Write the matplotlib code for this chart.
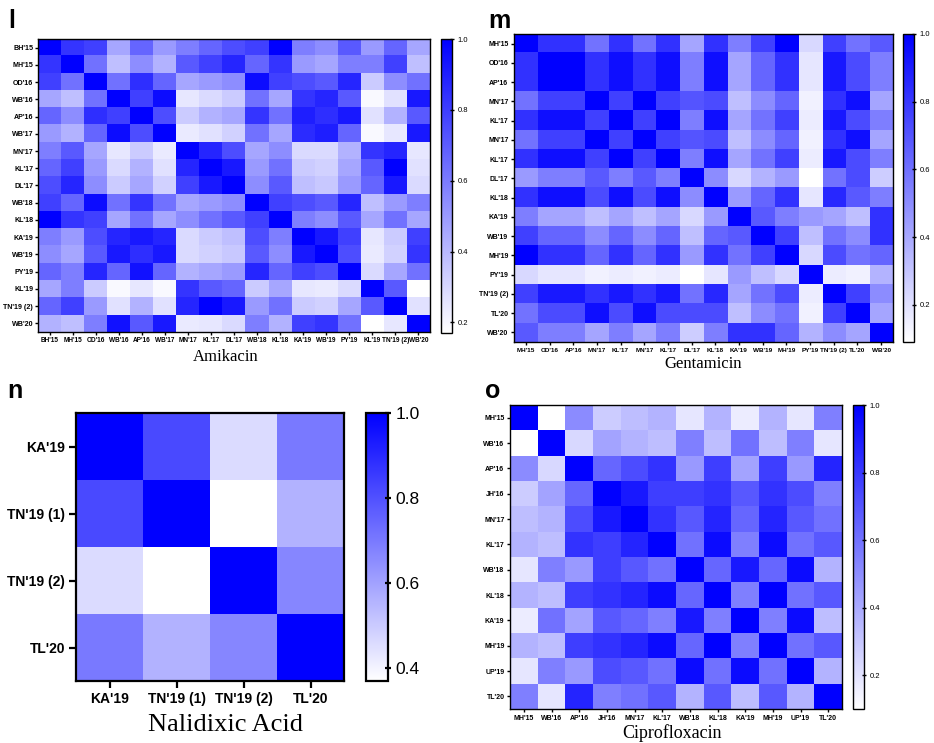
import numpy as np
import matplotlib
matplotlib.use("Agg")
import matplotlib.pyplot as plt
from matplotlib.colors import LinearSegmentedColormap

# ---- data ----
amk_labels = ["BH'15", "MH'15", "OD'16", "WB'16", "AP'16", "WB'17", "MN'17",
              "KL'17", "DL'17", "WB'18", "KL'18", "KA'19", "WB'19", "PY'19",
              "KL'19", "TN'19 (2)", "WB'20"]
amk_values = [
    [1.00, 0.83, 0.79, 0.46, 0.67, 0.50, 0.59, 0.67, 0.75, 0.79, 1.00, 0.59, 0.54, 0.71, 0.50, 0.67, 0.46],
    [0.83, 1.00, 0.63, 0.38, 0.54, 0.42, 0.71, 0.79, 0.88, 0.67, 0.83, 0.50, 0.46, 0.59, 0.59, 0.79, 0.38],
    [0.79, 0.63, 1.00, 0.63, 0.85, 0.67, 0.46, 0.50, 0.54, 0.96, 0.79, 0.75, 0.71, 0.88, 0.34, 0.54, 0.63],
    [0.46, 0.38, 0.63, 1.00, 0.79, 0.96, 0.25, 0.29, 0.34, 0.63, 0.46, 0.83, 0.88, 0.71, 0.19, 0.27, 0.92],
    [0.67, 0.54, 0.85, 0.79, 1.00, 0.75, 0.34, 0.42, 0.46, 0.83, 0.63, 0.90, 0.85, 0.92, 0.27, 0.42, 0.71],
    [0.50, 0.42, 0.67, 0.96, 0.75, 1.00, 0.24, 0.27, 0.32, 0.63, 0.46, 0.86, 0.90, 0.67, 0.19, 0.25, 0.92],
    [0.59, 0.71, 0.46, 0.25, 0.34, 0.24, 1.00, 0.88, 0.75, 0.46, 0.54, 0.29, 0.29, 0.42, 0.83, 0.88, 0.25],
    [0.67, 0.79, 0.50, 0.29, 0.42, 0.27, 0.88, 1.00, 0.92, 0.50, 0.63, 0.34, 0.32, 0.46, 0.71, 1.00, 0.27],
    [0.75, 0.88, 0.54, 0.34, 0.46, 0.32, 0.79, 0.92, 1.00, 0.54, 0.71, 0.38, 0.35, 0.50, 0.67, 0.92, 0.29],
    [0.79, 0.67, 0.96, 0.63, 0.83, 0.63, 0.46, 0.50, 0.54, 1.00, 0.79, 0.75, 0.71, 0.88, 0.38, 0.50, 0.59],
    [1.00, 0.83, 0.79, 0.46, 0.63, 0.46, 0.54, 0.63, 0.71, 0.79, 1.00, 0.59, 0.54, 0.71, 0.46, 0.63, 0.46],
    [0.59, 0.50, 0.75, 0.88, 0.92, 0.88, 0.29, 0.34, 0.38, 0.75, 0.59, 1.00, 0.92, 0.79, 0.25, 0.34, 0.79],
    [0.54, 0.46, 0.71, 0.92, 0.85, 0.92, 0.29, 0.32, 0.35, 0.71, 0.54, 0.92, 1.00, 0.75, 0.24, 0.32, 0.83],
    [0.67, 0.59, 0.88, 0.67, 0.94, 0.67, 0.42, 0.46, 0.50, 0.88, 0.67, 0.79, 0.75, 1.00, 0.29, 0.46, 0.63],
    [0.46, 0.59, 0.34, 0.19, 0.25, 0.19, 0.83, 0.71, 0.67, 0.34, 0.46, 0.25, 0.24, 0.29, 1.00, 0.71, 0.17],
    [0.67, 0.79, 0.50, 0.27, 0.42, 0.27, 0.88, 1.00, 0.92, 0.50, 0.63, 0.34, 0.32, 0.46, 0.71, 1.00, 0.27],
    [0.42, 0.38, 0.59, 0.94, 0.71, 0.92, 0.24, 0.25, 0.29, 0.59, 0.42, 0.79, 0.83, 0.63, 0.17, 0.25, 1.00],
]

gen_labels = ["MH'15", "OD'16", "AP'16", "MN'17", "KL'17", "MN'17", "KL'17",
              "DL'17", "KL'18", "KA'19", "WB'19", "MH'19", "PY'19",
              "TN'19 (2)", "TL'20", "WB'20"]
gen_values = [
    [1.00, 0.82, 0.82, 0.59, 0.82, 0.59, 0.82, 0.41, 0.82, 0.55, 0.77, 1.00, 0.23, 0.77, 0.59, 0.68],
    [0.82, 1.00, 1.00, 0.82, 0.95, 0.82, 0.95, 0.55, 0.95, 0.41, 0.64, 0.82, 0.18, 0.91, 0.73, 0.55],
    [0.82, 1.00, 1.00, 0.82, 0.95, 0.82, 0.95, 0.55, 0.95, 0.41, 0.64, 0.82, 0.18, 0.91, 0.73, 0.55],
    [0.59, 0.77, 0.77, 1.00, 0.77, 1.00, 0.77, 0.70, 0.73, 0.32, 0.50, 0.64, 0.14, 0.82, 0.95, 0.41],
    [0.82, 0.95, 0.95, 0.77, 1.00, 0.77, 1.00, 0.55, 0.95, 0.41, 0.59, 0.77, 0.16, 0.91, 0.73, 0.55],
    [0.59, 0.77, 0.77, 1.00, 0.77, 1.00, 0.77, 0.70, 0.73, 0.32, 0.50, 0.64, 0.14, 0.82, 0.95, 0.41],
    [0.82, 0.95, 0.95, 0.77, 1.00, 0.77, 1.00, 0.55, 0.95, 0.41, 0.59, 0.77, 0.16, 0.91, 0.73, 0.55],
    [0.45, 0.55, 0.55, 0.68, 0.55, 0.68, 0.55, 1.00, 0.50, 0.23, 0.36, 0.45, 0.09, 0.59, 0.73, 0.27],
    [0.82, 0.95, 0.95, 0.73, 0.95, 0.73, 0.95, 0.50, 1.00, 0.45, 0.64, 0.82, 0.18, 0.86, 0.68, 0.55],
    [0.55, 0.41, 0.41, 0.32, 0.41, 0.32, 0.41, 0.23, 0.45, 1.00, 0.68, 0.55, 0.45, 0.41, 0.32, 0.82],
    [0.77, 0.64, 0.64, 0.50, 0.64, 0.50, 0.64, 0.32, 0.64, 0.68, 1.00, 0.77, 0.32, 0.59, 0.50, 0.82],
    [1.00, 0.82, 0.82, 0.64, 0.82, 0.64, 0.82, 0.45, 0.82, 0.59, 0.77, 1.00, 0.23, 0.73, 0.59, 0.64],
    [0.23, 0.18, 0.18, 0.14, 0.16, 0.14, 0.16, 0.09, 0.18, 0.45, 0.32, 0.23, 1.00, 0.16, 0.14, 0.36],
    [0.77, 0.91, 0.91, 0.82, 0.91, 0.82, 0.91, 0.59, 0.86, 0.41, 0.59, 0.73, 0.16, 1.00, 0.77, 0.50],
    [0.59, 0.73, 0.73, 0.95, 0.73, 0.95, 0.73, 0.73, 0.73, 0.32, 0.50, 0.59, 0.14, 0.77, 1.00, 0.41],
    [0.68, 0.55, 0.55, 0.41, 0.55, 0.41, 0.55, 0.27, 0.55, 0.82, 0.82, 0.64, 0.36, 0.50, 0.41, 1.00],
]

nal_labels = ["KA'19", "TN'19 (1)", "TN'19 (2)", "TL'20"]
nal_values = [
    [1.00, 0.82, 0.46, 0.70],
    [0.82, 1.00, 0.37, 0.56],
    [0.46, 0.37, 1.00, 0.67],
    [0.70, 0.56, 0.67, 1.00],
]

cip_labels = ["MH'15", "WB'16", "AP'16", "JH'16", "MN'17", "KL'17", "WB'18",
              "KL'18", "KA'19", "MH'19", "UP'19", "TL'20"]
cip_values = [
    [1.00, 0.10, 0.51, 0.28, 0.33, 0.37, 0.19, 0.37, 0.17, 0.37, 0.19, 0.55],
    [0.10, 1.00, 0.24, 0.42, 0.37, 0.33, 0.55, 0.33, 0.60, 0.33, 0.55, 0.19],
    [0.51, 0.24, 1.00, 0.64, 0.73, 0.82, 0.46, 0.78, 0.42, 0.78, 0.46, 0.87],
    [0.28, 0.42, 0.64, 1.00, 0.91, 0.78, 0.78, 0.82, 0.69, 0.82, 0.73, 0.55],
    [0.33, 0.37, 0.73, 0.91, 1.00, 0.82, 0.69, 0.87, 0.64, 0.87, 0.69, 0.60],
    [0.37, 0.33, 0.82, 0.78, 0.87, 1.00, 0.60, 0.96, 0.55, 0.96, 0.60, 0.69],
    [0.19, 0.55, 0.46, 0.78, 0.69, 0.60, 1.00, 0.64, 0.91, 0.64, 0.96, 0.37],
    [0.37, 0.33, 0.78, 0.82, 0.87, 0.96, 0.64, 1.00, 0.55, 1.00, 0.60, 0.69],
    [0.17, 0.60, 0.42, 0.69, 0.64, 0.55, 0.91, 0.55, 1.00, 0.55, 0.96, 0.33],
    [0.37, 0.33, 0.78, 0.82, 0.87, 0.96, 0.64, 1.00, 0.55, 1.00, 0.60, 0.69],
    [0.19, 0.55, 0.46, 0.73, 0.69, 0.60, 0.96, 0.60, 0.96, 0.60, 1.00, 0.37],
    [0.55, 0.19, 0.87, 0.55, 0.60, 0.69, 0.37, 0.69, 0.33, 0.69, 0.37, 1.00],
]

W, H = 934, 743
cmap = LinearSegmentedColormap.from_list("wb", ["#ffffff", "#0000ff"])


def px(l, t, r, b):
    """pixel box -> figure fraction rect"""
    return [l / W, 1 - b / H, (r - l) / W, (b - t) / H]


def heat(fig, box, cbox, data, labels, vmin, ticks, yfs, xfs, cb_fs, lw, tlen, pad):
    ax = fig.add_axes(px(*box))
    im = ax.imshow(np.array(data), cmap=cmap, vmin=vmin, vmax=1.0,
                   aspect="auto", interpolation="nearest")
    n = len(labels)
    ax.set_xticks(range(n))
    ax.set_yticks(range(n))
    ax.set_xticklabels(labels, fontsize=xfs, fontweight="bold",
                       family="Liberation Sans")
    ax.set_yticklabels(labels, fontsize=yfs, fontweight="bold",
                       family="Liberation Sans")
    ax.tick_params(length=tlen, width=lw, pad=pad)
    for s in ax.spines.values():
        s.set_linewidth(lw)
    cax = fig.add_axes(px(*cbox))
    cb = fig.colorbar(im, cax=cax, ticks=ticks)
    cb.ax.set_yticklabels([f"{t:.1f}" for t in ticks], fontsize=cb_fs,
                          family="Liberation Sans")
    cb.ax.tick_params(direction="inout", length=tlen, width=lw, pad=3)
    cb.outline.set_linewidth(lw)
    return ax


fig = plt.figure(figsize=(W / 100, H / 100), dpi=100)
ticks5 = [0.2, 0.4, 0.6, 0.8, 1.0]

heat(fig, (38, 39, 430, 332), (441, 39, 452, 333), amk_values, amk_labels,
     0.17, ticks5, 5.1, 4.7, 5.5, 1.0, 2.5, 1)
heat(fig, (514, 34, 893, 342), (903, 34, 914, 342), gen_values, gen_labels,
     0.09, ticks5, 5.0, 4.6, 5.5, 1.0, 2.5, 1.5)
heat(fig, (76, 413, 344, 681), (366, 413, 388, 681), nal_values, nal_labels,
     0.37, [0.4, 0.6, 0.8, 1.0], 10, 10, 12.5, 1.6, 5, 3)
heat(fig, (510, 405, 842, 709), (853, 405, 864, 709), cip_values, cip_labels,
     0.10, ticks5, 5.0, 5.0, 5.5, 1.0, 2.5, 1.5)

# panel letters
for letter, x, y in [("l", 8, 28), ("m", 488, 28), ("n", 7, 398), ("o", 485, 398)]:
    fig.text(x / W, 1 - y / H, letter, fontsize=18, fontweight="bold",
             family="Liberation Sans", va="baseline", ha="left")

# drug titles
for name, x, y, fs in [("Amikacin", 226, 357, 12), ("Gentamicin", 703, 364, 12),
                       ("Nalidixic Acid", 225, 725, 19), ("Ciprofloxacin", 672, 733, 13)]:
    fig.text(x / W, 1 - y / H, name, fontsize=fs, family="Liberation Serif",
             ha="center", va="center")

fig.savefig("out.png", dpi=100)
